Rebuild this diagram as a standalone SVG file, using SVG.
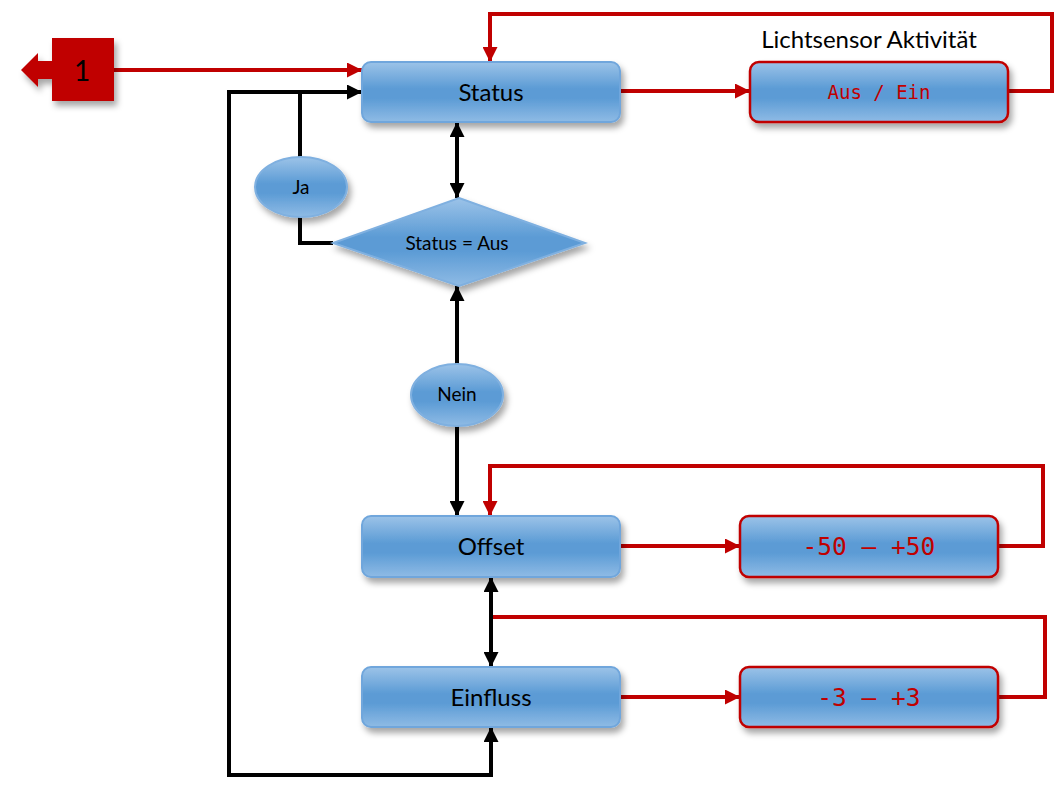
<svg xmlns="http://www.w3.org/2000/svg" width="1057" height="786" viewBox="0 0 1057 786">
<style>
.lbl{font-family:Lato,"Open Sans","Liberation Sans",sans-serif;fill:#000;text-anchor:middle}
.mono{font-family:"DejaVu Sans Mono","Liberation Mono",monospace;fill:#c00000;text-anchor:middle}
.blue{fill:url(#g);stroke:#6fa6dc;stroke-width:2;filter:url(#sh)}
.redbox{fill:url(#g);stroke:#c00000;stroke-width:2.5;filter:url(#sh)}
.k{fill:none;stroke:#000;stroke-width:4}
.r{fill:none;stroke:#c00000;stroke-width:4}
</style>
<defs>
<linearGradient id="g" x1="0" y1="0" x2="0" y2="1">
<stop offset="0" stop-color="#9cc3e8"/>
<stop offset="0.45" stop-color="#5b9bd5"/>
<stop offset="0.6" stop-color="#5b9bd5"/>
<stop offset="1" stop-color="#8fbbe5"/>
</linearGradient>
<filter id="sh" x="-10%" y="-20%" width="130%" height="160%">
<feDropShadow dx="3" dy="5" stdDeviation="3" flood-color="#000" flood-opacity="0.35"/>
</filter>
<marker id="ak" viewBox="0 0 10 10" refX="10" refY="5" markerWidth="15" markerHeight="15" markerUnits="userSpaceOnUse" orient="auto-start-reverse"><path d="M0,0L10,5L0,10z" fill="#000"/></marker>
<marker id="ar" viewBox="0 0 10 10" refX="10" refY="5" markerWidth="15" markerHeight="15" markerUnits="userSpaceOnUse" orient="auto-start-reverse"><path d="M0,0L10,5L0,10z" fill="#c00000"/></marker>
</defs>
<g id="connectors">
<path class="r" d="M114,70H362" marker-end="url(#ar)"/>
<path class="r" d="M1008,91H1052V14H490V62" marker-end="url(#ar)"/>
<path class="r" d="M620,91H750" marker-end="url(#ar)"/>
<path class="k" d="M333,243H300V92" />
<path class="k" d="M229,92H362" marker-end="url(#ak)"/>
<path class="k" d="M229,90V775H491V727" marker-end="url(#ak)"/>
<path class="k" d="M457,122V198" marker-start="url(#ak)" marker-end="url(#ak)"/>
<path class="k" d="M457,364V286" marker-end="url(#ak)"/>
<path class="k" d="M457,426V516" marker-end="url(#ak)"/>
<path class="r" d="M998,546H1043V466H490V516" marker-end="url(#ar)"/>
<path class="r" d="M620,546H740" marker-end="url(#ar)"/>
<path class="r" d="M998,697H1045V617H491"/>
<path class="r" d="M620,697H740" marker-end="url(#ar)"/>
<path class="k" d="M491,577V667" marker-start="url(#ak)" marker-end="url(#ak)"/>
</g>
<g id="n1">
<path d="M21,70L38,53V61H52V38H114V101H52V79H38V87Z" fill="#c00000" filter="url(#sh)"/>
<text x="82" y="81" class="lbl" font-size="28" font-family="Liberation Sans">1</text>
</g>
<g id="status">
<rect class="blue" x="362" y="62" width="258" height="60" rx="9"/>
<text x="491" y="101" class="lbl" font-size="24">Status</text>
</g>
<g id="ausein">
<rect class="redbox" x="750" y="62" width="258" height="60" rx="9"/>
<text x="879" y="99" class="mono" font-size="19">Aus / Ein</text>
</g>
<g id="lichtlabel">
<text x="869" y="48" class="lbl" font-size="24">Lichtsensor Aktivität</text>
</g>
<g id="ja">
<ellipse class="blue" cx="301" cy="187" rx="46" ry="30" style="stroke:#7fb0e0"/>
<text x="301" y="194" class="lbl" font-size="19">Ja</text>
</g>
<g id="diamond">
<path class="blue" d="M459,198L585,243L459,286L333,243Z" style="stroke:#7fb0e0"/>
<text x="457" y="250" class="lbl" font-size="19">Status = Aus</text>
</g>
<g id="nein">
<ellipse class="blue" cx="457" cy="395" rx="46" ry="31" style="stroke:#7fb0e0"/>
<text x="457" y="401" class="lbl" font-size="19">Nein</text>
</g>
<g id="offset">
<rect class="blue" x="362" y="516" width="258" height="61" rx="9"/>
<text x="491" y="555" class="lbl" font-size="24">Offset</text>
</g>
<g id="r50">
<rect class="redbox" x="740" y="516" width="258" height="61" rx="9"/>
<text x="869" y="555" class="mono" font-size="24.5">-50 – +50</text>
</g>
<g id="einfluss">
<rect class="blue" x="362" y="667" width="258" height="60" rx="9"/>
<text x="491" y="706" class="lbl" font-size="24">Einfluss</text>
</g>
<g id="r3">
<rect class="redbox" x="740" y="667" width="258" height="60" rx="9"/>
<text x="869" y="706" class="mono" font-size="24.5">-3 – +3</text>
</g>
</svg>
